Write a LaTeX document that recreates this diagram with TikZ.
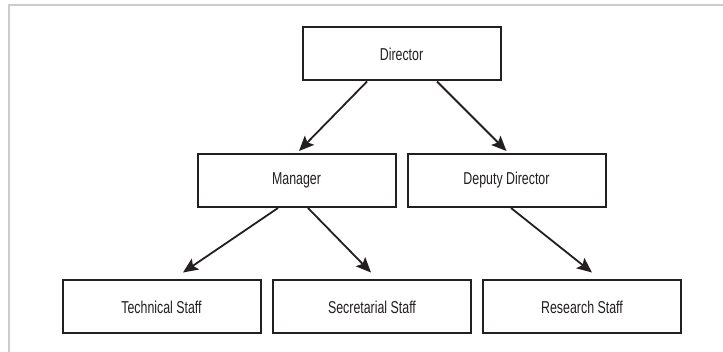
\documentclass[tikz,border=0pt]{standalone}
\usepackage{fontspec}
\setmainfont{Liberation Sans}[FakeStretch=0.72]
\usetikzlibrary{arrows.meta}
\definecolor{ink}{HTML}{231F20}
\definecolor{framegray}{HTML}{CCCCCC}
\begin{document}
\begin{tikzpicture}[x=1pt,y=-1pt,
  orgbox/.style={draw=ink,line width=2pt,minimum width=198pt,minimum height=53pt,
    inner sep=0pt,font=\fontsize{17.2}{19}\selectfont,text=ink},
  link/.style={draw=ink,line width=1.8pt,-{Stealth[length=15pt,width=13pt,inset=3pt]}}]
\useasboundingbox (0,0) rectangle (723,352);
\fill[white] (0,0) rectangle (723,352);
\draw[framegray,line width=2pt] (8.5,352) -- (8.5,5.5) -- (723,5.5);
\node[orgbox] (dir) at (401.5,54) {Director};
\node[orgbox] (mgr) at (296.5,180.5) {Manager};
\node[orgbox] (dep) at (506.5,180.5) {Deputy Director};
\node[orgbox] (tech) at (161.5,307) {Technical Staff};
\node[orgbox] (sec) at (372,307) {Secretarial Staff};
\node[orgbox] (res) at (582,307) {Research Staff};
\draw[link] ([xshift=-34.5pt]dir.south) -- ([xshift=2.5pt,yshift=2pt]mgr.north);
\draw[link] ([xshift=35.5pt]dir.south) -- ([yshift=2pt]dep.north);
\draw[link] ([xshift=-18.5pt]mgr.south) -- ([xshift=21.5pt,yshift=7pt]tech.north);
\draw[link] ([xshift=11.5pt]mgr.south) -- ([xshift=-1pt,yshift=7pt]sec.north);
\draw[link] ([xshift=4.5pt]dep.south) -- ([xshift=10pt,yshift=7pt]res.north);
\end{tikzpicture}
\end{document}
